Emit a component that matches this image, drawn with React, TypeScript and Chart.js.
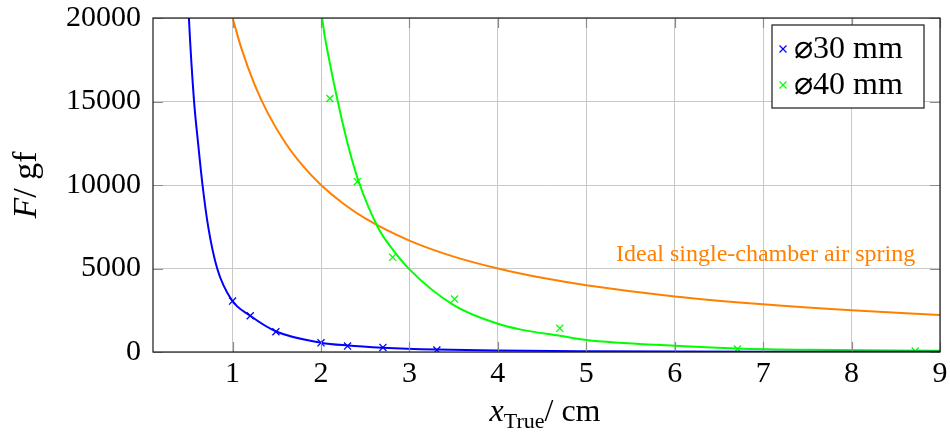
import React, { useEffect, useRef } from "react";
import { Chart, registerables } from "chart.js";

Chart.register(...registerables);

// ---- data ----
const xTicks = [1, 2, 3, 4, 5, 6, 7, 8, 9];
const yTicks = [0, 5000, 10000, 15000, 20000];

const d30MeasX = [1.0, 1.2, 1.49, 2.0, 2.3, 2.7, 3.31];
const d30MeasF = [3050, 2170, 1210, 550, 354, 275, 115];

const d40MeasX = [2.1, 2.41, 2.81, 3.51, 4.7, 6.71, 8.72];
const d40MeasF = [15180, 10200, 5670, 3170, 1415, 175, 55];

const d30FitX = [0.48, 0.506, 0.563, 0.61, 0.66, 0.724, 0.826, 0.99, 1.2, 1.5, 2.0, 2.3, 2.7, 3.3, 4.0, 5.0, 6.0, 7.0, 8.0, 9.0];
const d30FitF = [23300, 20000, 15100, 12500, 10000, 7510, 5000, 3110, 2170, 1210, 560, 390, 260, 150, 90, 50, 30, 20, 15, 10];

const d40FitX = [1.99, 2.013, 2.1, 2.19, 2.3, 2.42, 2.65, 2.78, 3.0, 3.5, 4.0, 4.25, 4.7, 5.0, 6.0, 6.7, 7.5, 9.0];
const d40FitF = [21500, 20000, 17300, 15000, 12500, 10300, 7400, 6350, 4950, 2810, 1690, 1355, 970, 713, 372, 215, 130, 72];

const idealX = [1, 1.1, 1.25, 1.4, 1.6, 1.8, 2, 2.25, 2.5, 3, 3.5, 4, 4.5, 5, 6, 7, 8, 9];
const idealF = [20000, 18180, 16000, 14290, 12500, 11110, 10000, 8890, 8000, 6670, 5710, 5000, 4440, 4000, 3330, 2860, 2500, 2220];

const legendLabels = ["⌀30 mm", "⌀40 mm"];
const annotationText = "Ideal single-chamber air spring";
const annotationAt = { x: 8.72, y: 5450 };

const BLUE = "#0000ff";
const GREEN = "#00ff00";
const ORANGE = "#ff8000";
const SERIF = "'Liberation Serif', 'Times New Roman', serif";

const pts = (xs: number[], ys: number[]) => xs.map((x, i) => ({ x, y: ys[i] }));

function drawRuns(ctx: CanvasRenderingContext2D, runs: { t: string; font: string; dy?: number }[], cx: number, by: number) {
  let total = 0;
  const widths = runs.map((r) => {
    ctx.font = r.font;
    const w = ctx.measureText(r.t).width;
    total += w;
    return w;
  });
  let x = cx - total / 2;
  ctx.textAlign = "left";
  ctx.textBaseline = "alphabetic";
  runs.forEach((r, i) => {
    ctx.font = r.font;
    ctx.fillText(r.t, x, by + (r.dy || 0));
    x += widths[i];
  });
}

const overlay = {
  id: "overlay",
  afterDraw(chart: any) {
    const ctx: CanvasRenderingContext2D = chart.ctx;
    const a = chart.chartArea;
    const xs = chart.scales.x;
    const ys = chart.scales.y;
    ctx.save();
    // inward ticks
    ctx.strokeStyle = "#8c8c8c";
    ctx.lineWidth = 1.2;
    ctx.beginPath();
    xTicks.forEach((v) => {
      const px = Math.round(xs.getPixelForValue(v)) + 0.5;
      ctx.moveTo(px, a.bottom);
      ctx.lineTo(px, a.bottom - 10);
      ctx.moveTo(px, a.top);
      ctx.lineTo(px, a.top + 10);
    });
    yTicks.forEach((v) => {
      const py = Math.round(ys.getPixelForValue(v)) + 0.5;
      ctx.moveTo(a.left, py);
      ctx.lineTo(a.left + 10, py);
      ctx.moveTo(a.right, py);
      ctx.lineTo(a.right - 10, py);
    });
    ctx.stroke();
    // frame
    ctx.strokeStyle = "#1a1a1a";
    ctx.lineWidth = 1.2;
    ctx.strokeRect(a.left, a.top, a.right - a.left, a.bottom - a.top);

    // annotation
    ctx.fillStyle = ORANGE;
    ctx.font = `24px ${SERIF}`;
    ctx.textAlign = "right";
    ctx.textBaseline = "alphabetic";
    ctx.fillText(annotationText, xs.getPixelForValue(annotationAt.x), ys.getPixelForValue(annotationAt.y));

    // legend
    const bw = 152, bh = 83;
    const bx = a.right - 16 - bw;
    const by = a.top + 7;
    ctx.fillStyle = "#fff";
    ctx.fillRect(bx, by, bw, bh);
    ctx.strokeStyle = "#1a1a1a";
    ctx.lineWidth = 1.2;
    ctx.strokeRect(bx, by, bw, bh);
    const colors = [BLUE, GREEN];
    legendLabels.forEach((lab, i) => {
      const cy = by + 24 + i * 36;
      const mx = bx + 11;
      ctx.strokeStyle = colors[i];
      ctx.lineWidth = 1.2;
      ctx.beginPath();
      ctx.moveTo(mx - 3.5, cy - 3.5);
      ctx.lineTo(mx + 3.5, cy + 3.5);
      ctx.moveTo(mx - 3.5, cy + 3.5);
      ctx.lineTo(mx + 3.5, cy - 3.5);
      ctx.stroke();
      ctx.fillStyle = "#000";
      ctx.font = `32px ${SERIF}`;
      ctx.textAlign = "left";
      ctx.textBaseline = "middle";
      ctx.fillText(lab, bx + 22, cy + 1);
    });

    // axis titles
    ctx.fillStyle = "#000";
    drawRuns(
      ctx,
      [
        { t: "x", font: `italic 32px ${SERIF}` },
        { t: "True", font: `22px ${SERIF}`, dy: 7 },
        { t: "/ cm", font: `32px ${SERIF}` },
      ],
      545,
      421
    );
    ctx.save();
    ctx.translate(36, 185);
    ctx.rotate(-Math.PI / 2);
    drawRuns(
      ctx,
      [
        { t: "F", font: `italic 34px ${SERIF}` },
        { t: "/ gf", font: `34px ${SERIF}` },
      ],
      0,
      0
    );
    ctx.restore();
    ctx.restore();
  },
};

export default function App() {
  const ref = useRef<HTMLCanvasElement | null>(null);
  useEffect(() => {
    if (!ref.current) return;
    const tickFont = { family: SERIF, size: 30 };
    const chart = new Chart(ref.current, {
      type: "line",
      data: {
        datasets: [
          {
            label: "fit30",
            data: pts(d30FitX, d30FitF),
            borderColor: BLUE,
            borderWidth: 2,
            pointRadius: 0,
            cubicInterpolationMode: "monotone",
            fill: false,
          },
          {
            label: legendLabels[0],
            data: pts(d30MeasX, d30MeasF),
            showLine: false,
            borderColor: BLUE,
            backgroundColor: BLUE,
            pointStyle: "crossRot",
            pointRadius: 5,
            pointBorderWidth: 1.3,
          },
          {
            label: "fit40",
            data: pts(d40FitX, d40FitF),
            borderColor: GREEN,
            borderWidth: 2,
            pointRadius: 0,
            cubicInterpolationMode: "monotone",
            fill: false,
          },
          {
            label: legendLabels[1],
            data: pts(d40MeasX, d40MeasF),
            showLine: false,
            borderColor: GREEN,
            backgroundColor: GREEN,
            pointStyle: "crossRot",
            pointRadius: 5,
            pointBorderWidth: 1.3,
          },
          {
            label: "ideal",
            data: pts(idealX, idealF),
            borderColor: ORANGE,
            borderWidth: 2,
            pointRadius: 0,
            cubicInterpolationMode: "monotone",
            fill: false,
          },
        ] as any,
      },
      options: {
        animation: false,
        responsive: true,
        maintainAspectRatio: false,
        layout: { padding: { left: 0, right: 10, top: 18, bottom: 0 } },
        plugins: { legend: { display: false }, tooltip: { enabled: false } },
        scales: {
          x: {
            type: "linear",
            min: 0.1,
            max: 9,
            afterBuildTicks: (s: any) => {
              s.ticks = xTicks.map((v) => ({ value: v }));
            },
            afterFit: (s: any) => {
              s.height = 83;
              s.paddingLeft = 0;
              s.paddingRight = 0;
            },
            grid: { color: "#c8c8c8", lineWidth: 1, drawTicks: false },
            border: { display: false },
            ticks: {
              font: tickFont,
              color: "#000",
              padding: 4,
              maxRotation: 0,
              autoSkip: false,
              callback: (v: any) => String(v),
            },
          },
          y: {
            type: "linear",
            min: 0,
            max: 20000,
            afterBuildTicks: (s: any) => {
              s.ticks = yTicks.map((v) => ({ value: v }));
            },
            afterFit: (s: any) => {
              s.width = 153;
              s.paddingTop = 0;
              s.paddingBottom = 0;
            },
            grid: { color: "#c8c8c8", lineWidth: 1, drawTicks: false },
            border: { display: false },
            ticks: {
              font: tickFont,
              color: "#000",
              padding: 12,
              autoSkip: false,
              callback: (v: any) => String(v),
            },
          },
        },
      } as any,
      plugins: [overlay],
    });
    return () => chart.destroy();
  }, []);
  return (
    <div style={{ position: "fixed", left: 0, top: 0, width: 950, height: 435, background: "#fff" }}>
      <canvas ref={ref} />
    </div>
  );
}
